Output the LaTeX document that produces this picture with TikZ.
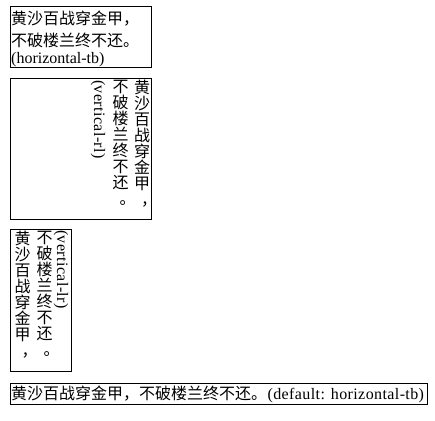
\documentclass[tikz,border=0pt]{standalone}
\usepackage{fontspec}
\setmainfont{Liberation Serif}
\newfontfamily\cjk{Noto Sans CJK SC}
\newcommand{\vpunct}[1]{\makebox[16pt][l]{\hspace{7pt}#1}}
\begin{document}
\begin{tikzpicture}[x=1pt,y=1pt,
  frame/.style={draw=black, line width=1pt},
  cjktext/.style={font=\cjk\fontsize{16}{16}\selectfont, inner sep=0pt},
  lattext/.style={font=\fontsize{16}{16}\selectfont, inner sep=0pt},
  widelat/.style={font=\fontsize{16}{16}\selectfont\addfontfeature{LetterSpace=2.5}, inner sep=0pt},
  vcol/.style={cjktext, align=center, anchor=north},
  vlat/.style={widelat, anchor=north}]
\useasboundingbox (0,0) rectangle (435,-420);

% box 1: horizontal-tb
\draw[frame] (10.5,-6.5) rectangle (151.5,-67.5);
\node[cjktext, anchor=base west] (h1) at (11,-25) {黄沙百战穿金甲，};
\node[cjktext, anchor=base west] (h2) at (11,-46.5) {不破楼兰终不还。};
\node[lattext, anchor=base west] (h3) at (11,-63) {(horizontal-tb)};

% box 2: vertical-rl
\draw[frame] (10.5,-78.5) rectangle (151.5,-219.5);
\node[vcol] (r1) at (142,-80) {黄\\沙\\百\\战\\穿\\金\\甲\\\vpunct{，}};
\node[vcol] (r2) at (120.5,-80) {不\\破\\楼\\兰\\终\\不\\还\\\vpunct{。}};
\node[vlat] (r3) at (98,-80) {\rotatebox{-90}{(vertical-rl)}};

% box 3: vertical-lr
\draw[frame] (10.5,-229.5) rectangle (71.5,-371.5);
\node[vcol] (l1) at (22.5,-231) {黄\\沙\\百\\战\\穿\\金\\甲\\\vpunct{，}};
\node[vcol] (l2) at (44.5,-231) {不\\破\\楼\\兰\\终\\不\\还\\\vpunct{。}};
\node[vlat] (l3) at (61,-230) {\rotatebox{-90}{(vertical-lr)}};

% box 4: default
\draw[frame] (10.5,-383.5) rectangle (427.5,-404.5);
\node[cjktext, anchor=base west] (d1) at (11,-399) {黄沙百战穿金甲，不破楼兰终不还。};
\node[widelat, anchor=base west] (d2) at (d1.base east) {(default: horizontal-tb)};
\end{tikzpicture}
\end{document}
